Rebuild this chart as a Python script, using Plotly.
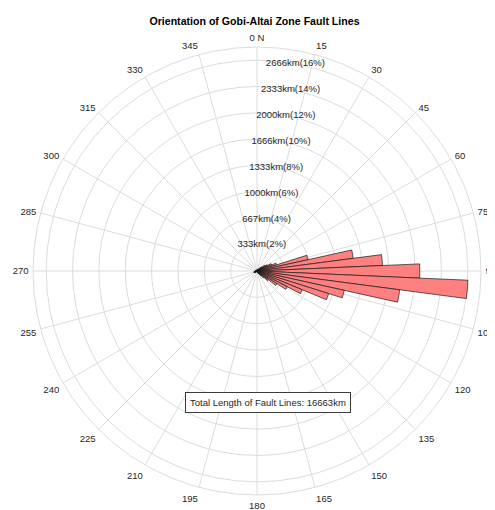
import plotly.graph_objects as go

# ---- data ----
bin_centers = list(range(0, 360, 5))  # degrees, clockwise from North
lengths_km = [
    15, 10, 12, 15, 15, 20, 25, 30, 40, 55,        # 0-45
    80, 120, 150, 200, 260, 660, 1227, 1588,       # 50-85
    2059, 2670, 1820, 1130, 950, 620, 430, 300,    # 90-125
    180, 120, 80, 50, 35, 25, 20, 15, 12, 10,      # 130-175
    10, 8, 8, 10, 10, 12, 12, 15, 15, 20,          # 180-225
    20, 25, 30, 40, 45, 40, 30, 25, 20, 15,        # 230-275
    12, 10, 10, 10, 8, 8, 8, 10, 10, 10,           # 280-325
    12, 12, 10, 10, 12, 15                          # 330-355
]
total_km = 16663
radial_tick_vals = [333.26 * k for k in range(1, 9)]
radial_tick_text = ["333km(2%)", "667km(4%)", "1000km(6%)", "1333km(8%)",
                    "1666km(10%)", "2000km(12%)", "2333km(14%)", "2666km(16%)"]
angular_tick_vals = list(range(0, 360, 15))
angular_tick_text = ["0 N"] + [str(a) for a in range(15, 360, 15)]
title_text = "Orientation of Gobi-Altai Zone Fault Lines"
annotation_text = f"Total Length of Fault Lines: {total_km}km"

FONT = "Liberation Sans, Arial, Helvetica, sans-serif"
TXT = "#262626"
GRID = "#dcdcdc"
W, H = 495, 510
OFF = 8  # page body margin in the browser
CX, CY, R = 257 - OFF, 271 - OFF, 224

fig = go.Figure()
fig.add_trace(go.Barpolar(
    r=lengths_km, theta=bin_centers, width=[5] * len(bin_centers),
    marker=dict(color="#FF8080", line=dict(color="#1a1a1a", width=0.7)),
    showlegend=False, hoverinfo="skip",
))
# radial tick labels placed along a ray at ~10.5 degrees
fig.add_trace(go.Scatterpolar(
    r=radial_tick_vals, theta=[10.5] * len(radial_tick_vals),
    text=radial_tick_text, mode="text", textposition="middle center",
    textfont=dict(family=FONT, size=9.5, color=TXT),
    showlegend=False, hoverinfo="skip",
))

fig.update_layout(
    width=W, height=H,
    margin=dict(l=0, r=0, t=0, b=0),
    paper_bgcolor="white",
    font=dict(family=FONT, size=9.5, color=TXT),
    title=dict(text=f"<b>{title_text}</b>", x=(254.5 - OFF) / W, xanchor="center",
               y=1 - (21 - OFF) / H, yanchor="middle", yref="container",
               font=dict(family=FONT, size=10.6, color="#000000")),
    polar=dict(
        domain=dict(x=[(CX - R) / W, (CX + R) / W],
                    y=[(H - CY - R) / H, (H - CY + R) / H]),
        bgcolor="white",
        bargap=0,
        radialaxis=dict(range=[0, 0.17 * total_km], tickvals=radial_tick_vals,
                        showticklabels=False, ticks="", showline=False,
                        gridcolor=GRID, gridwidth=1),
        angularaxis=dict(rotation=90, direction="clockwise",
                         tickvals=angular_tick_vals, ticktext=angular_tick_text,
                         ticks="outside", ticklen=2, tickcolor="rgba(0,0,0,0)",
                         showline=True, linecolor=GRID, linewidth=1,
                         gridcolor=GRID, gridwidth=1,
                         tickfont=dict(family=FONT, size=9.5, color=TXT)),
    ),
    annotations=[dict(
        text=annotation_text, x=(268 - OFF) / W, y=1 - (402 - OFF) / H,
        xref="paper", yref="paper", xanchor="center", yanchor="middle",
        showarrow=False, bordercolor="#3a3a3a", borderwidth=1, borderpad=4,
        bgcolor="white", font=dict(family=FONT, size=9.5, color=TXT),
    )],
)

fig.write_html("out.html")
